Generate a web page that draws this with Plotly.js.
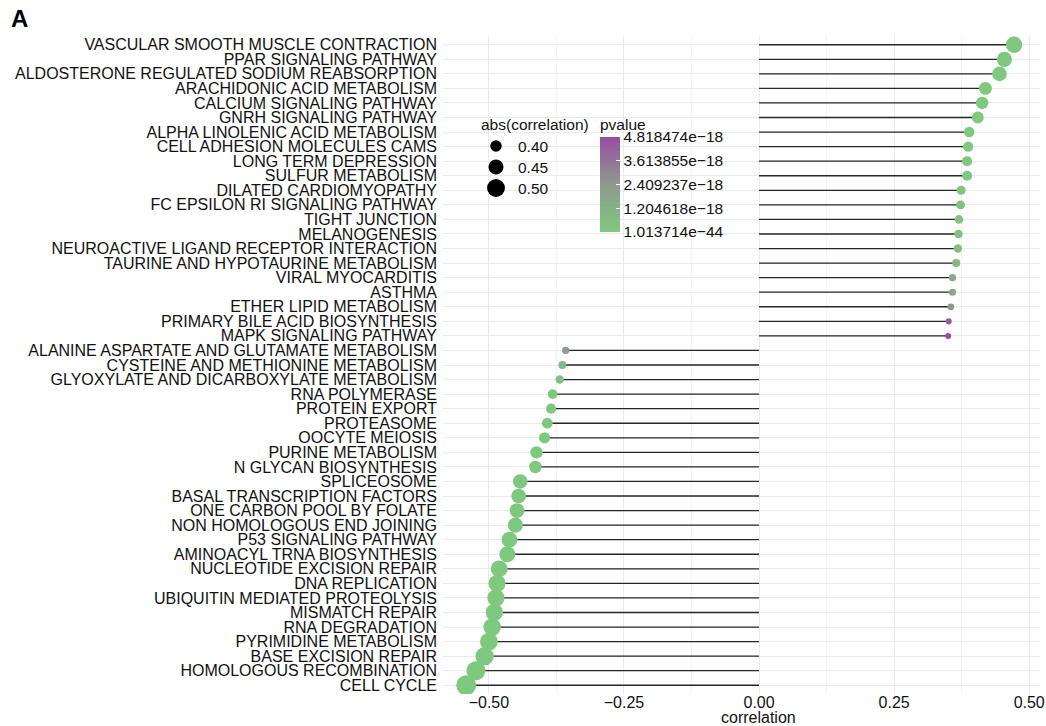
<!DOCTYPE html>
<html>
<head>
<meta charset="utf-8">
<script src="https://cdn.plot.ly/plotly-3.0.1.min.js"></script>
<style>html,body{margin:0;padding:0;background:#fff;}#chart{width:1046px;height:726px;}</style>
</head>
<body>
<div id="chart"></div>
<script>
const categories = [
  "VASCULAR SMOOTH MUSCLE CONTRACTION",
  "PPAR SIGNALING PATHWAY",
  "ALDOSTERONE REGULATED SODIUM REABSORPTION",
  "ARACHIDONIC ACID METABOLISM",
  "CALCIUM SIGNALING PATHWAY",
  "GNRH SIGNALING PATHWAY",
  "ALPHA LINOLENIC ACID METABOLISM",
  "CELL ADHESION MOLECULES CAMS",
  "LONG TERM DEPRESSION",
  "SULFUR METABOLISM",
  "DILATED CARDIOMYOPATHY",
  "FC EPSILON RI SIGNALING PATHWAY",
  "TIGHT JUNCTION",
  "MELANOGENESIS",
  "NEUROACTIVE LIGAND RECEPTOR INTERACTION",
  "TAURINE AND HYPOTAURINE METABOLISM",
  "VIRAL MYOCARDITIS",
  "ASTHMA",
  "ETHER LIPID METABOLISM",
  "PRIMARY BILE ACID BIOSYNTHESIS",
  "MAPK SIGNALING PATHWAY",
  "ALANINE ASPARTATE AND GLUTAMATE METABOLISM",
  "CYSTEINE AND METHIONINE METABOLISM",
  "GLYOXYLATE AND DICARBOXYLATE METABOLISM",
  "RNA POLYMERASE",
  "PROTEIN EXPORT",
  "PROTEASOME",
  "OOCYTE MEIOSIS",
  "PURINE METABOLISM",
  "N GLYCAN BIOSYNTHESIS",
  "SPLICEOSOME",
  "BASAL TRANSCRIPTION FACTORS",
  "ONE CARBON POOL BY FOLATE",
  "NON HOMOLOGOUS END JOINING",
  "P53 SIGNALING PATHWAY",
  "AMINOACYL TRNA BIOSYNTHESIS",
  "NUCLEOTIDE EXCISION REPAIR",
  "DNA REPLICATION",
  "UBIQUITIN MEDIATED PROTEOLYSIS",
  "MISMATCH REPAIR",
  "RNA DEGRADATION",
  "PYRIMIDINE METABOLISM",
  "BASE EXCISION REPAIR",
  "HOMOLOGOUS RECOMBINATION",
  "CELL CYCLE"
];

const correlation = [
  0.472, 0.454, 0.445, 0.419, 0.413, 0.405, 0.389, 0.387, 0.385, 0.385,
  0.374, 0.373, 0.370, 0.369, 0.368, 0.365, 0.358, 0.358, 0.355, 0.351, 0.350,
  -0.358, -0.364, -0.369, -0.382, -0.385, -0.392, -0.397, -0.412, -0.414,
  -0.442, -0.445, -0.448, -0.451, -0.462, -0.466, -0.481, -0.485, -0.487,
  -0.490, -0.494, -0.500, -0.508, -0.524, -0.542
];

const pvalue = [
  3.1e-28, 7.9e-26, 5.6e-25, 9.8e-23, 3.3e-22, 2.4e-21, 2.9e-20, 3.6e-20, 4.8e-20, 5.1e-20,
  2.2e-19, 2.6e-19, 4.1e-19, 4.6e-19, 5.2e-19, 8.5e-19, 1.70e-18, 1.75e-18, 2.6e-18, 4.35e-18, 4.818474e-18,
  2.2e-18, 9.0e-19, 5.3e-19, 1.2e-19, 8.1e-20, 3.0e-20, 1.5e-20, 1.6e-21, 1.1e-21,
  1.4e-23, 8.6e-24, 5.3e-24, 3.2e-24, 5.0e-25, 2.5e-25, 1.8e-26, 8.7e-27, 6.0e-27,
  3.5e-27, 1.6e-27, 5.5e-28, 1.2e-28, 4.4e-30, 1.013714e-44
];

const sizeLegendValues = [0.40, 0.45, 0.50];
const sizeLegendLabels = ["0.40", "0.45", "0.50"];
const pvalueBreaks = [1.013714e-44, 1.204618e-18, 2.409237e-18, 3.613855e-18, 4.818474e-18];
const pvalueBreakLabels = ["1.013714e\u221244", "1.204618e\u221218", "2.409237e\u221218", "3.613855e\u221218", "4.818474e\u221218"];

// ---- scales ----
const absVals = correlation.map(Math.abs);
const absMin = Math.min(...absVals), absMax = Math.max(...absVals);
function diam(v) { return Math.sqrt(36 + 364 * (v - absMin) / (absMax - absMin)); }
const pMin = Math.min(...pvalue), pMax = Math.max(...pvalue);

// plot geometry (px) for legend placement
const W = 1046, H = 726;
const mL = 443, mR = 6, mT = 36, mB = 32;
const pw = W - mL - mR, ph = H - mT - mB;
const px2x = p => (p - mL) / pw;
const py2y = p => (H - mB - p) / ph;
const FONT = 'Liberation Sans, Arial, sans-serif';

// stems
const sx = [], sy = [];
categories.forEach((c, i) => { sx.push(0, correlation[i], null); sy.push(c, c, null); });

const stems = {
  type: 'scatter', mode: 'lines', x: sx, y: sy,
  line: { color: '#262626', width: 1.3 }, hoverinfo: 'skip', showlegend: false
};

const dots = {
  type: 'scatter', mode: 'markers', x: correlation, y: categories,
  marker: {
    size: absVals.map(diam), opacity: 1,
    color: pvalue, cmin: pMin, cmax: pMax,
    colorscale: [[0, '#7FC97F'], [0.5, '#8E9A8E'], [1, '#984EA3']],
    line: { width: 0 },
    colorbar: {
      x: px2x(600), xref: 'paper', xanchor: 'left',
      y: py2y(115), yref: 'paper', yanchor: 'top',
      len: 117, lenmode: 'pixels', thickness: 20, thicknessmode: 'pixels',
      xpad: 0, ypad: 0, outlinewidth: 0,
      tickmode: 'array', tickvals: pvalueBreaks, ticktext: pvalueBreakLabels,
      ticks: 'inside', ticklen: 4, tickcolor: '#ffffff', tickwidth: 1,
      tickfont: { family: FONT, size: 15.5, color: '#111' },
      title: { text: 'pvalue', side: 'top', font: { family: FONT, size: 15.5, color: '#111' } }
    }
  },
  showlegend: false
};

const shapes = [], annotations = [];
const legendY = [146, 167, 188];
sizeLegendValues.forEach((v, i) => {
  const d = diam(v);
  shapes.push({
    type: 'circle', xref: 'paper', yref: 'paper',
    xsizemode: 'pixel', ysizemode: 'pixel',
    xanchor: px2x(496), yanchor: py2y(legendY[i]),
    x0: -d / 2, x1: d / 2, y0: -d / 2, y1: d / 2,
    fillcolor: '#000', line: { width: 0 }, layer: 'above'
  });
  annotations.push({
    xref: 'paper', yref: 'paper', x: px2x(516), y: py2y(legendY[i]),
    xanchor: 'left', yanchor: 'middle', showarrow: false, text: sizeLegendLabels[i],
    font: { family: FONT, size: 15.5, color: '#111' }
  });
});
annotations.push({
  xref: 'paper', yref: 'paper', x: px2x(479), y: py2y(125),
  xanchor: 'left', yanchor: 'middle', showarrow: false, text: 'abs(correlation)',
  font: { family: FONT, size: 15.5, color: '#111' }
});
annotations.push({
  xref: 'paper', yref: 'paper', x: px2x(758.5), y: py2y(718),
  xanchor: 'center', yanchor: 'middle', showarrow: false, text: 'correlation',
  font: { family: FONT, size: 16, color: '#111' }
});

const layout = {
  width: W, height: H,
  margin: { l: mL, r: mR, t: mT, b: mB, pad: 0 },
  paper_bgcolor: '#fff', plot_bgcolor: '#fff',
  font: { family: FONT, size: 16, color: '#111' },
  title: { text: '<b>A</b>', xref: 'container', yref: 'container', x: 11 / W, y: 1 - 10 / H,
           xanchor: 'left', yanchor: 'top', font: { size: 24, color: '#000', family: FONT } },
  xaxis: {
    range: [-0.585, 0.52], tickmode: 'linear', tick0: 0, dtick: 0.25, tickformat: '.2f',
    showgrid: true, gridcolor: '#EBEBEB', gridwidth: 1, zeroline: false, showline: false,
    ticks: '', ticklabelstandoff: -3, tickfont: { size: 16, color: '#111' },
    minor: { tick0: 0, dtick: 0.125, showgrid: true, gridcolor: '#F3F3F3', gridwidth: 1 },
    automargin: false, fixedrange: true
  },
  yaxis: {
    type: 'category', categoryorder: 'array', categoryarray: categories,
    tickmode: 'array', tickvals: categories, ticktext: categories,
    range: [categories.length - 0.4, -0.6],
    showgrid: true, gridcolor: '#EBEBEB', gridwidth: 1, zeroline: false, showline: false,
    ticks: '', ticklabelstandoff: 5, tickfont: { size: 16, color: '#111' },
    automargin: false, fixedrange: true
  },
  shapes: shapes, annotations: annotations,
  showlegend: false
};

Plotly.newPlot('chart', [stems, dots], layout, { displayModeBar: false, staticPlot: true });
</script>
</body>
</html>
